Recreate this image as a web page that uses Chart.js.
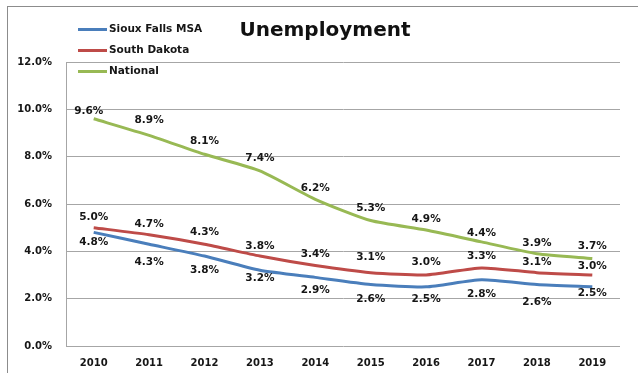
<!DOCTYPE html>
<html>
<head>
<meta charset="utf-8">
<script src="https://cdn.jsdelivr.net/npm/chart.js@4/dist/chart.umd.min.js"></script>
<style>
  html, body { margin: 0; padding: 0; background: #ffffff; }
  #wrap { width: 638px; height: 373px; position: relative; }
</style>
</head>
<body>
<div id="wrap"><canvas id="c" width="638" height="373"></canvas></div>
<script>
// Unemployment rates, 2010-2019
const years = ['2010', '2011', '2012', '2013', '2014', '2015', '2016', '2017', '2018', '2019'];
const siouxFalls = [4.8, 4.3, 3.8, 3.2, 2.9, 2.6, 2.5, 2.8, 2.6, 2.5];
const southDakota = [5.0, 4.7, 4.3, 3.8, 3.4, 3.1, 3.0, 3.3, 3.1, 3.0];
const national = [9.6, 8.9, 8.1, 7.4, 6.2, 5.3, 4.9, 4.4, 3.9, 3.7];
const yTicks = [0, 2, 4, 6, 8, 10, 12];

// Vertical nudges (px) for the value labels of each series
const sfLabelDy = [10, 18, 14, 8, 13, 15, 12.5, 15, 18, 6];
const sdLabelDy = [-10, -11, -12, -10, -11, -15, -12.5, -11.5, -10, -9];
const natLabelDy = [-8, -15, -13, -13, -11.5, -12, -11, -9, -10, -12.5];
const natLabelDx = [-5, 0, 0, 0, 0, 0, 0, 0, 0, 0];

const FONT = 'DejaVu Sans';
const TEXT = '#161616';

const decor = {
  id: 'decor',
  beforeDraw(chart) {
    const ctx = chart.ctx;
    ctx.save();
    ctx.fillStyle = '#ffffff';
    ctx.fillRect(0, 0, chart.width, chart.height);
    ctx.strokeStyle = '#8c8c8c';
    ctx.lineWidth = 1;
    ctx.strokeRect(7.5, 6.5, 700, 400);
    ctx.restore();
  },
  afterDatasetsDraw(chart) {
    const ctx = chart.ctx;
    ctx.save();
    // value labels
    ctx.font = 'bold 10.5px "' + FONT + '"';
    ctx.fillStyle = TEXT;
    ctx.textAlign = 'center';
    ctx.textBaseline = 'middle';
    chart.data.datasets.forEach((ds, i) => {
      const meta = chart.getDatasetMeta(i);
      meta.data.forEach((pt, j) => {
        const dy = ds.labelDy[j];
        const dx = ds.labelDx ? ds.labelDx[j] : 0;
        ctx.fillText(ds.data[j].toFixed(1) + '%', pt.x + dx, pt.y + dy);
      });
    });
    // legend
    ctx.textAlign = 'left';
    ctx.lineWidth = 3;
    chart.data.datasets.forEach((ds, i) => {
      const y = 29.5 + i * 21;
      ctx.strokeStyle = ds.borderColor;
      ctx.beginPath();
      ctx.moveTo(78, y);
      ctx.lineTo(107, y);
      ctx.stroke();
      ctx.fillStyle = TEXT;
      ctx.fillText(ds.label, 109, y);
    });
    // title
    ctx.font = 'bold 20px "' + FONT + '"';
    ctx.textAlign = 'center';
    ctx.fillStyle = '#111111';
    ctx.fillText('Unemployment', 325, 31);
    ctx.restore();
  }
};

new Chart(document.getElementById('c'), {
  type: 'line',
  data: {
    labels: years,
    datasets: [
      { label: 'Sioux Falls MSA', data: siouxFalls, borderColor: '#4a7ebb', labelDy: sfLabelDy },
      { label: 'South Dakota', data: southDakota, borderColor: '#be4b48', labelDy: sdLabelDy },
      { label: 'National', data: national, borderColor: '#98b954', labelDy: natLabelDy, labelDx: natLabelDx }
    ].map(d => Object.assign(d, {
      borderWidth: 3,
      pointRadius: 0,
      tension: 0.2,
      fill: false
    }))
  },
  options: {
    responsive: false,
    animation: false,
    devicePixelRatio: 1,
    layout: { padding: { top: 62, right: 18, left: 0, bottom: 0 } },
    plugins: { legend: { display: false }, title: { display: false }, tooltip: { enabled: false } },
    scales: {
      x: {
        offset: true,
        grid: { display: false, drawTicks: false },
        border: { display: false },
        ticks: { color: TEXT, font: { family: FONT, size: 10, weight: 'bold' }, padding: 11, maxRotation: 0 },
        afterFit(s) { s.height = 27; }
      },
      y: {
        min: 0,
        max: 12,
        afterBuildTicks(s) { s.ticks = yTicks.map(v => ({ value: v })); },
        grid: { color: '#a6a6a6', lineWidth: 1, drawTicks: false },
        border: { display: true, color: '#a6a6a6', width: 1 },
        ticks: {
          color: TEXT,
          font: { family: FONT, size: 10, weight: 'bold' },
          padding: 14,
          callback: v => v.toFixed(1) + '%'
        },
        afterFit(s) { s.width = 66; }
      }
    }
  },
  plugins: [decor]
});
</script>
</body>
</html>
